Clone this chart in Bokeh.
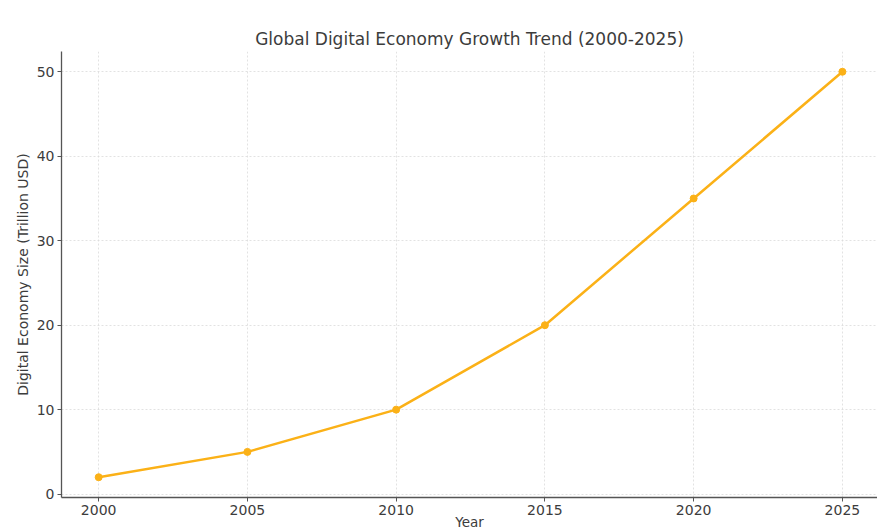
from bokeh.plotting import figure
from bokeh.models import Range1d, FixedTicker
from bokeh.embed import file_html
from bokeh.resources import INLINE

years = [2000, 2005, 2010, 2015, 2020, 2025]
size_trillion = [2, 5, 10, 20, 35, 50]
y_ticks = [0, 10, 20, 30, 40, 50]

FONT = "DejaVu Sans"
TXT = "#3c3c3c"
LINE = "#FBB117"

p = figure(width=877, height=532, output_backend="svg", toolbar_location=None,
           x_range=Range1d(1998.75, 2026.18), y_range=Range1d(-0.4, 52.4),
           min_border_left=61, min_border_right=0, min_border_top=51, min_border_bottom=35)

p.title.text = "Global Digital Economy Growth Trend (2000-2025)"
p.title.align = "center"
p.title.text_font = FONT
p.title.text_font_size = "17px"
p.title.text_font_style = "normal"
p.title.text_color = TXT
p.title.standoff = 5

p.outline_line_color = None
p.background_fill_color = "white"
p.border_fill_color = "white"

for ax in (p.xaxis[0], p.yaxis[0]):
    ax.axis_line_color = "#555555"
    ax.axis_line_width = 1.3
    ax.major_tick_line_color = "#555555"
    ax.major_tick_out = 4
    ax.major_tick_in = 0
    ax.minor_tick_line_color = None
    ax.major_label_text_font = FONT
    ax.major_label_text_font_size = "14px"
    ax.major_label_text_color = TXT
    ax.major_label_standoff = 3
    ax.axis_label_text_font = FONT
    ax.axis_label_text_font_size = "14px"
    ax.axis_label_text_font_style = "normal"
    ax.axis_label_text_color = TXT

p.xaxis.ticker = FixedTicker(ticks=years)
p.yaxis.ticker = FixedTicker(ticks=y_ticks)

p.yaxis.axis_label = "Digital Economy Size (Trillion USD)"
p.yaxis.axis_label_standoff = 3

p.xaxis.axis_label = "Year"
p.xaxis.axis_label_text_font_size = "13.5px"
p.xaxis.axis_label_standoff = -4

p.grid.grid_line_color = "#dadada"
p.grid.grid_line_dash = "2 2"
p.grid.grid_line_width = 0.8

p.line(years, size_trillion, line_color=LINE, line_width=2.5)
p.scatter(years, size_trillion, size=7, fill_color=LINE, line_color=LINE)

open("out.html", "w").write(file_html(p, INLINE))
